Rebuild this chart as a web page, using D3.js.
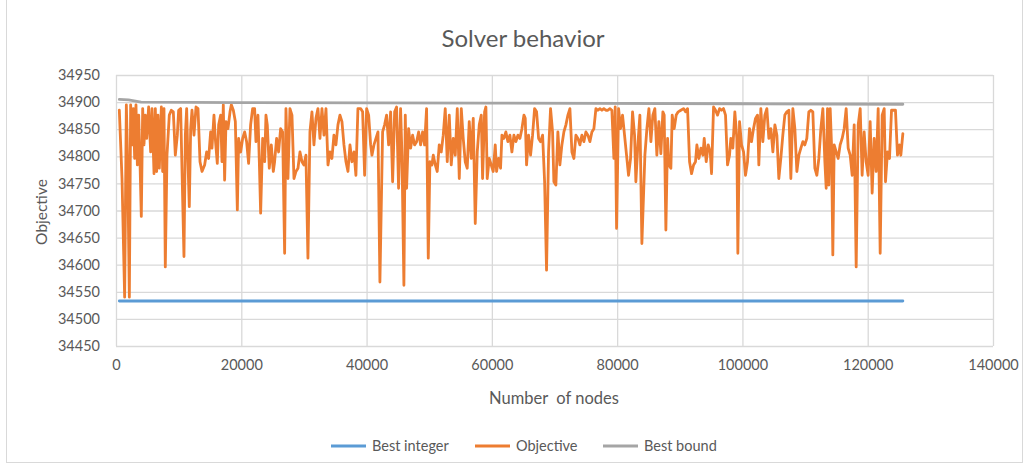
<!DOCTYPE html>
<html>
<head>
<meta charset="utf-8">
<script src="https://cdn.jsdelivr.net/npm/d3@7"></script>
<style>
  html, body { margin: 0; padding: 0; background: #fff; }
  svg text { font-family: Lato, "Open Sans", sans-serif; fill: #595959; }
</style>
</head>
<body>
<svg id="chart" width="1031" height="468"></svg>
<script>
const title = "Solver behavior";
const xTitle = "Number  of nodes";
const yTitle = "Objective";
const seriesNames = ["Best integer", "Objective", "Best bound"];
const seriesColors = ["#5B9BD5", "#ED7D31", "#A5A5A5"];
const xTicks = [0, 20000, 40000, 60000, 80000, 100000, 120000, 140000];
const yTicks = [34450, 34500, 34550, 34600, 34650, 34700, 34750, 34800, 34850, 34900, 34950];

const bestIntNodes = [530, 125610];
const bestIntValues = [34533, 34533];

const boundNodes = [530, 2000, 4000, 20000, 60000, 100000, 125610];
const boundValues = [34905, 34904, 34900, 34899, 34898, 34897, 34896];

const objNodes = [
  530, 960, 1380, 1650, 1860, 2130, 2340, 2550, 2770, 2980, 3190, 3410, 3620, 3830, 4040, 4260, 4470, 4680, 4900, 5210,
  5530, 5750, 6070, 6280, 6490, 6700, 6920, 7240, 7450, 7660, 7870, 8140, 8510, 8830, 9150, 9470, 9790, 10000, 10320, 10530,
  10850, 11070, 11280, 11490, 11700, 11920, 12130, 12450, 12770, 13090, 13410, 13730, 14150, 14470, 14790, 15110, 15320, 15640, 15850, 16170,
  16390, 16710, 16920, 17130, 17340, 17560, 17880, 18200, 18410, 18730, 19050, 19370, 19580, 19900, 20220, 20540, 20850, 21170, 21490, 21810,
  22130, 22340, 22660, 22880, 23090, 23410, 23730, 23940, 24150, 24470, 24790, 25110, 25320, 25640, 25960, 26280, 26600, 26920, 27130, 27450,
  27770, 28090, 28410, 28730, 29050, 29370, 29690, 30000, 30320, 30640, 30960, 31280, 31600, 31920, 32240, 32560, 32880, 33200, 33520, 33840,
  34150, 34470, 34790, 35110, 35430, 35750, 36070, 36390, 36710, 37030, 37350, 37670, 37990, 38300, 38620, 39050, 39370, 39690, 40010, 40330,
  40650, 40860, 41180, 41500, 41820,
  42130, 42560, 42880, 43200, 43520, 43840, 44160, 44480, 44790, 45110, 45430, 45650, 45960, 46180, 46390, 46710, 47030, 47350, 47670, 47990,
  48310, 48620, 48940, 49260, 49580, 49850, 50110, 50430, 50650, 50970, 51280, 51600, 51920, 52240, 52560, 52880, 53200, 53520, 53840, 54160,
  54480, 54800, 55120, 55430, 55750, 56070, 56390, 56710, 57030, 57350, 57670, 57990, 58310, 58520, 58840, 59050, 59260, 59580, 59900, 60220,
  60540, 60750, 61070, 61390, 61610, 61920, 62240, 62560, 62880, 63200, 63520, 63840, 64160, 64480, 64800, 65120, 65330, 65540, 65860, 66180,
  66500, 66820, 67140, 67460, 67780, 68100, 68420, 68730, 69050, 69370, 69690, 69900, 70220, 70540, 70860, 71180, 71500, 71820, 72140, 72460,
  72780, 73100, 73420, 73740, 74050, 74370, 74690, 75010, 75330, 75650, 75970, 76290, 76610, 76930, 77250, 77570, 77880, 78200, 78520, 78840,
  79160, 79480, 79690, 79910, 80230, 80540, 80860, 81180, 81500, 81820, 82140, 82460, 82780, 82990, 83310, 83630, 83950,
  84430, 84750, 85070, 85390, 85700, 86020, 86340, 86660, 86980, 87300, 87510, 87780, 88050, 88260, 88580, 88790, 89110, 89430, 89750, 90170,
  90600, 90920, 91240, 91560, 91880, 92200, 92510, 92730, 93050, 93370, 93690, 93900, 94220, 94540, 94860, 95070, 95390, 95710, 96030, 96350,
  96660, 96980, 97300, 97620, 97940, 98150, 98470, 98790, 99110, 99270, 99540, 99860, 100180, 100490, 100810, 101130, 101450, 101770, 102090, 102410,
  102620, 102940, 103260, 103580, 103900, 104220, 104540, 104860, 105180, 105500, 105810, 106130, 106450, 106770, 107090, 107410, 107730, 108050, 108370, 108690,
  109010, 109330, 109650, 109960, 110280, 110600, 110920, 111240, 111560, 111880, 112200, 112520, 112840, 113160, 113370, 113580, 113790, 114010, 114220, 114430,
  114650, 114970, 115280, 115600, 115920, 116240, 116560, 116880, 117200, 117520, 117840, 118160, 118480, 118800, 119110, 119430, 119750, 120070, 120390, 120710,
  121030, 121350, 121670, 121990, 122310, 122630, 122840, 123160, 123480, 123800, 124120, 124430, 124750, 125070, 125290, 125610
];
const objValues = [
  34885, 34759, 34540, 34895, 34790, 34540, 34895, 34821, 34888, 34796, 34895, 34784, 34876, 34790, 34689, 34888, 34821, 34876, 34833, 34891,
  34808, 34888, 34768, 34888, 34772, 34876, 34778, 34891, 34772, 34888, 34596, 34802, 34876, 34885, 34882, 34802, 34839, 34885, 34888, 34778,
  34615, 34839, 34888, 34790, 34707, 34851, 34885, 34839, 34891, 34888, 34790, 34772, 34784, 34808, 34796, 34845, 34815, 34876, 34833, 34787,
  34858, 34876, 34790, 34895, 34756, 34864, 34851, 34882, 34895, 34885, 34864, 34701, 34833, 34808, 34833, 34845, 34827, 34787, 34858, 34888,
  34888, 34827, 34876, 34790, 34695, 34833, 34790, 34876, 34858, 34778, 34821, 34772, 34790, 34833, 34808, 34851, 34845, 34621, 34888, 34759,
  34888, 34876, 34759, 34772, 34778, 34808, 34790, 34784, 34802, 34612, 34845, 34882, 34821, 34870, 34888, 34833, 34888, 34839, 34888, 34784,
  34808, 34796, 34839, 34821, 34858, 34876, 34864, 34821, 34790, 34772, 34821, 34790, 34808, 34765, 34888, 34888, 34882, 34765, 34888, 34876,
  34821, 34802, 34821, 34833, 34845,
  34568, 34845, 34858, 34876, 34821, 34882, 34753, 34882, 34891, 34741, 34888, 34802, 34562, 34876, 34741, 34851, 34815, 34839, 34821, 34827,
  34845, 34821, 34845, 34821, 34888, 34612, 34790, 34784, 34802, 34784, 34772, 34821, 34808, 34839, 34888, 34790, 34876, 34784, 34833, 34802,
  34888, 34759, 34888, 34833, 34790, 34778, 34864, 34796, 34870, 34676, 34808, 34858, 34876, 34759, 34882, 34891, 34759, 34796, 34784, 34772,
  34821, 34772, 34796, 34778, 34839, 34833, 34845, 34827, 34839, 34808, 34839, 34827, 34839, 34833, 34851, 34876, 34870, 34784, 34839, 34802,
  34839, 34888, 34882, 34833, 34827, 34839, 34753, 34590, 34808, 34888, 34845, 34753, 34747, 34845, 34784, 34821, 34845, 34858, 34876, 34888,
  34808, 34796, 34839, 34833, 34821, 34839, 34827, 34845, 34839, 34827, 34845, 34851, 34888, 34885, 34888, 34885, 34888, 34885, 34885, 34888,
  34885, 34796, 34891, 34667, 34888, 34851, 34876, 34839, 34802, 34765, 34796, 34882, 34839, 34753, 34821, 34876, 34639,
  34802, 34851, 34888, 34827, 34876, 34888, 34802, 34864, 34805, 34882, 34876, 34664, 34833, 34784, 34778, 34876, 34851, 34876, 34882, 34885,
  34888, 34882, 34888, 34790, 34768, 34784, 34790, 34821, 34796, 34815, 34802, 34833, 34790, 34821, 34808, 34768, 34891, 34885, 34876, 34888,
  34885, 34888, 34876, 34784, 34802, 34833, 34815, 34882, 34833, 34621, 34864, 34821, 34808, 34765, 34790, 34851, 34827, 34851, 34870, 34876,
  34784, 34888, 34827, 34876, 34888, 34833, 34851, 34808, 34858, 34839, 34759, 34796, 34839, 34876, 34882, 34885, 34759, 34888, 34851, 34772,
  34802, 34815, 34827, 34821, 34833, 34882, 34885, 34882, 34778, 34765, 34796, 34851, 34888, 34790, 34741, 34888, 34747, 34888, 34821, 34618,
  34821, 34808, 34796, 34821, 34833, 34851, 34888, 34815, 34802, 34765, 34858, 34596, 34858, 34888, 34765, 34845, 34790, 34765, 34864, 34732,
  34833, 34772, 34888, 34621, 34876, 34888, 34753, 34808, 34796, 34885, 34885, 34885, 34802, 34821, 34802, 34842
];

const svg = d3.select("#chart");
const plot = { left: 116, right: 993, top: 75, bottom: 346 };

// chart area border
svg.append("rect").attr("x", 6.5).attr("y", -1).attr("width", 1016).attr("height", 463.5)
  .attr("fill", "#fff").attr("stroke", "#d9d9d9").attr("stroke-width", 1);

const x = d3.scaleLinear().domain([0, 140000]).range([plot.left, plot.right]);
const y = d3.scaleLinear().domain([34450, 34950]).range([plot.bottom, plot.top]);

// gridlines
const gx = svg.append("g").attr("transform", `translate(0,${plot.bottom})`)
  .call(d3.axisBottom(x).tickValues(xTicks).tickSize(-(plot.bottom - plot.top)).tickFormat(d => d).tickPadding(14));
gx.select(".domain").remove();
gx.selectAll(".tick line").attr("stroke", "#d9d9d9").attr("stroke-width", 1.3);
gx.selectAll(".tick text").style("font-size", "14.5px").attr("fill", "#595959");

const gy = svg.append("g").attr("transform", `translate(${plot.left},0)`)
  .call(d3.axisLeft(y).tickValues(yTicks).tickSize(-(plot.right - plot.left)).tickFormat(d => d).tickPadding(16));
gy.select(".domain").remove();
gy.selectAll(".tick line").attr("stroke", "#d9d9d9").attr("stroke-width", 1.3);
gy.selectAll(".tick text").style("font-size", "14.5px").attr("fill", "#595959");

const line = d3.line().x(d => x(d[0])).y(d => y(d[1])).curve(d3.curveLinear);
const zip = (a, b) => a.map((v, i) => [v, b[i]]);

const series = [
  zip(bestIntNodes, bestIntValues),
  zip(objNodes, objValues),
  zip(boundNodes, boundValues)
];
series.forEach((s, i) => {
  svg.append("path").datum(s).attr("d", line)
    .attr("fill", "none").attr("stroke", seriesColors[i])
    .attr("stroke-width", 2.8).attr("stroke-linejoin", "round").attr("stroke-linecap", "round");
});

// titles
svg.append("text").attr("x", 523).attr("y", 47).attr("text-anchor", "middle")
  .style("font-size", "24px").text(title);
svg.append("text").attr("x", 554).attr("y", 404).attr("text-anchor", "middle")
  .style("font-size", "16.5px").style("white-space", "pre").text(xTitle);
svg.append("text").attr("transform", "translate(47,212) rotate(-90)").attr("text-anchor", "middle")
  .style("font-size", "15.5px").text(yTitle);

// legend
const legendX = [331, 475, 603];
const legend = svg.append("g");
seriesNames.forEach((n, i) => {
  const g = legend.append("g").attr("transform", `translate(${legendX[i]},446)`);
  g.append("line").attr("x1", 0).attr("x2", 35).attr("y1", 0).attr("y2", 0)
    .attr("stroke", seriesColors[i]).attr("stroke-width", 2.8);
  g.append("text").attr("x", 41).attr("y", 5).style("font-size", "14.5px").text(n);
});
</script>
</body>
</html>
